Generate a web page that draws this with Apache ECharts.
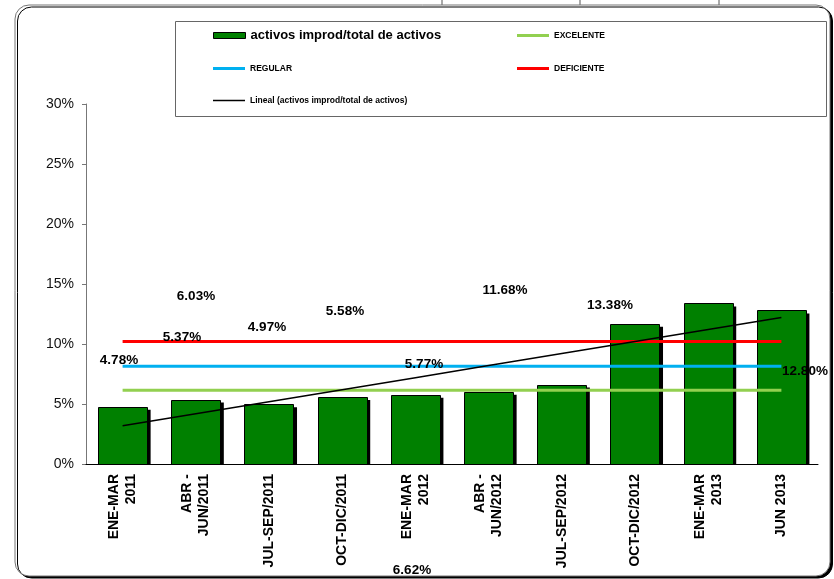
<!DOCTYPE html>
<html>
<head>
<meta charset="utf-8">
<script src="https://cdn.jsdelivr.net/npm/echarts@6/dist/echarts.min.js"></script>
<style>
  html, body { margin: 0; padding: 0; background: #fff; }
  #chart { width: 834px; height: 579px; }
</style>
</head>
<body>
<div id="chart"></div>
<script>
var FONT = 'Arial, "Liberation Sans", sans-serif';

// datos
var periodos = ['ENE-MAR\n2011', 'ABR -\nJUN/2011', 'JUL-SEP/2011', 'OCT-DIC/2011', 'ENE-MAR\n2012',
    'ABR -\nJUN/2012', 'JUL-SEP/2012', 'OCT-DIC/2012', 'ENE-MAR\n2013', 'JUN 2013'];
var activosImprod = [4.78, 5.37, 4.97, 5.58, 5.77, 6.03, 6.62, 11.68, 13.38, 12.80];
var excelente = [6.15, 6.15, 6.15, 6.15, 6.15, 6.15, 6.15, 6.15, 6.15, 6.15];
var regular = [8.15, 8.15, 8.15, 8.15, 8.15, 8.15, 8.15, 8.15, 8.15, 8.15];
var deficiente = [10.2, 10.2, 10.2, 10.2, 10.2, 10.2, 10.2, 10.2, 10.2, 10.2];

// posiciones (px) de las etiquetas, tal como quedaron en el original
var etiquetaPos = [[119, 360], [182, 337], [267, 327], [345, 311], [424, 364],
    [196, 296], [412, 570], [505, 290], [610, 305], [805, 371]];

// linea de tendencia (regresion lineal)
var n = activosImprod.length, sx = 0, sy = 0, sxy = 0, sxx = 0;
activosImprod.forEach(function (v, i) {
    var x = i + 1;
    sx += x; sy += v; sxy += x * v; sxx += x * x;
});
var pendiente = (n * sxy - sx * sy) / (n * sxx - sx * sx);
var corte = (sy - pendiente * sx) / n;
var tendencia = activosImprod.map(function (v, i) {
    return +(corte + pendiente * (i + 1)).toFixed(3);
});

var graficos = [
    {
        type: 'rect', z: -10,
        shape: { x: 15, y: 5, width: 815, height: 571, r: 14 },
        style: { fill: '#fff', stroke: '#777', lineWidth: 1, shadowColor: '#000', shadowOffsetX: 2.5, shadowOffsetY: 2, shadowBlur: 0 }
    },
    { type: 'line', z: -11, shape: { x1: 442, y1: 0, x2: 442, y2: 5 }, style: { stroke: '#555', lineWidth: 1 } },
    { type: 'line', z: -11, shape: { x1: 580, y1: 0, x2: 580, y2: 5 }, style: { stroke: '#555', lineWidth: 1 } },
    { type: 'line', z: -11, shape: { x1: 719, y1: 0, x2: 719, y2: 5 }, style: { stroke: '#555', lineWidth: 1 } },
    {
        type: 'rect', z: -5,
        shape: { x: 175.5, y: 21.5, width: 651, height: 95 },
        style: { fill: '#fff', stroke: '#666', lineWidth: 1 }
    }
];
activosImprod.forEach(function (v, i) {
    graficos.push({
        type: 'text', z: 100,
        x: etiquetaPos[i][0], y: etiquetaPos[i][1],
        style: {
            text: v.toFixed(2) + '%',
            font: 'bold 13.5px ' + FONT,
            fill: '#000', align: 'center', verticalAlign: 'middle'
        }
    });
});

function leyenda(nombre, left, top, w, h, size, estilo) {
    var item = { name: nombre, icon: 'rect' };
    if (estilo) item.itemStyle = estilo;
    return {
        data: [item],
        left: left, top: top, padding: 0,
        itemWidth: w, itemHeight: h,
        textStyle: { fontFamily: FONT, fontWeight: 'bold', fontSize: size, color: '#000' }
    };
}

// barra con sombra negra desplazada (como en Excel)
function dibujarBarra(params, api) {
    var i = api.value(0);
    var tope = api.coord([i, api.value(1)]);
    var base = api.coord([i, 0]);
    var ancho = api.size([1, 0])[0] * 0.67;
    var x = tope[0] - ancho / 2;
    return {
        type: 'group',
        children: [
            {
                type: 'rect',
                shape: { x: x + 3.5, y: tope[1] + 3, width: ancho, height: base[1] - tope[1] - 3 },
                style: { fill: '#000' }
            },
            {
                type: 'rect',
                shape: { x: Math.round(x) + 0.5, y: Math.round(tope[1]) + 0.5, width: Math.round(ancho), height: Math.round(base[1] - tope[1]) },
                style: { fill: '#008000', stroke: '#000', lineWidth: 1 }
            }
        ]
    };
}

var chart = echarts.init(document.getElementById('chart'));
chart.setOption({
    animation: false,
    backgroundColor: '#fff',
    graphic: graficos,
    legend: [
        leyenda('activos improd/total de activos', 213, 29, 32, 6, 13,
            { color: '#008000', borderColor: '#000', borderWidth: 1 }),
        leyenda('EXCELENTE', 517, 31, 32, 3, 8.5),
        leyenda('REGULAR', 213, 64, 32, 3, 8.5),
        leyenda('DEFICIENTE', 517, 64, 32, 3, 8.5),
        leyenda('Lineal (activos improd/total de activos)', 213, 96, 32, 1.5, 8.5)
    ],
    grid: { left: 86, right: 16, top: 104, bottom: 115 },
    xAxis: {
        type: 'category',
        data: periodos,
        axisLine: { lineStyle: { color: '#000', width: 1 } },
        axisTick: { length: 4, lineStyle: { color: '#000' } },
        axisLabel: {
            rotate: 90, margin: 10, interval: 0,
            fontFamily: FONT, fontWeight: 'bold', fontSize: 14, lineHeight: 17, color: '#000'
        },
        z: 5
    },
    yAxis: {
        type: 'value',
        min: 0, max: 30, interval: 5,
        axisLine: { show: true, lineStyle: { color: '#777' } },
        axisTick: { show: true, length: 4, lineStyle: { color: '#777' } },
        splitLine: { show: false },
        axisLabel: { formatter: '{value}%', margin: 12, fontFamily: FONT, fontSize: 14, color: '#111' }
    },
    series: [
        {
            name: 'activos improd/total de activos',
            type: 'custom',
            renderItem: dibujarBarra,
            encode: { x: 0, y: 1 },
            data: activosImprod.map(function (v, i) { return [i, v]; }),
            itemStyle: { color: '#008000' },
            z: 2
        },
        {
            name: 'EXCELENTE', type: 'line', data: excelente, symbol: 'none', z: 3,
            lineStyle: { color: '#92D050', width: 3 }, itemStyle: { color: '#92D050' }
        },
        {
            name: 'REGULAR', type: 'line', data: regular, symbol: 'none', z: 3,
            lineStyle: { color: '#00B0F0', width: 3 }, itemStyle: { color: '#00B0F0' }
        },
        {
            name: 'DEFICIENTE', type: 'line', data: deficiente, symbol: 'none', z: 3,
            lineStyle: { color: '#FF0000', width: 3 }, itemStyle: { color: '#FF0000' }
        },
        {
            name: 'Lineal (activos improd/total de activos)', type: 'line', data: tendencia, symbol: 'none', z: 3,
            lineStyle: { color: '#000', width: 1.5 }, itemStyle: { color: '#000' }
        }
    ]
});
</script>
</body>
</html>
